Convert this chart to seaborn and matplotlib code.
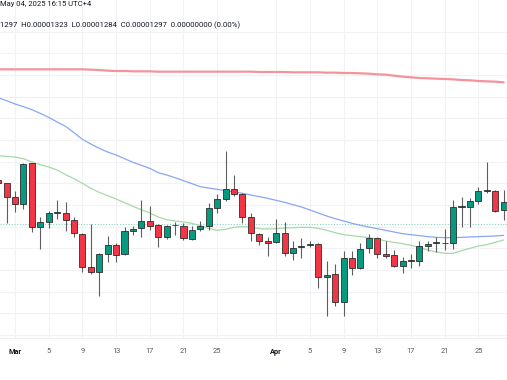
import matplotlib
matplotlib.use("Agg")
import matplotlib.pyplot as plt
import seaborn as sns
import numpy as np
import pandas as pd

# daily candles, Feb 27 -> Apr 28 2025 (prices in 1e-8)
dates = pd.date_range("2025-02-27", "2025-04-28", freq="D")

opens = [1430, 1420, 1378, 1357, 1480, 1290, 1305, 1332, 1332, 1310, 1267, 1170, 1155, 1208, 1235,
         1207, 1277, 1285, 1307, 1294, 1258, 1294, 1292, 1254, 1282, 1293, 1345, 1372, 1402, 1388,
         1320, 1268, 1248, 1243, 1270, 1210, 1228, 1235, 1237, 1138, 1147, 1065, 1197, 1167, 1225,
         1255, 1208, 1204, 1173, 1189, 1186, 1232, 1242, 1241, 1240, 1349, 1350, 1367, 1398, 1397, 1340]
highs = [1435, 1422, 1398, 1482, 1482, 1320, 1337, 1370, 1364, 1320, 1270, 1298, 1212, 1263, 1242,
         1290, 1292, 1370, 1352, 1297, 1295, 1303, 1302, 1293, 1307, 1360, 1388, 1518, 1445, 1392,
         1332, 1272, 1260, 1312, 1303, 1247, 1255, 1248, 1240, 1188, 1178, 1217, 1217, 1240, 1268,
         1260, 1247, 1220, 1200, 1208, 1248, 1247, 1260, 1282, 1370, 1378, 1375, 1410, 1485, 1400, 1400]
lows = [1410, 1300, 1335, 1343, 1273, 1222, 1287, 1312, 1277, 1260, 1155, 1148, 1083, 1183, 1185,
        1204, 1265, 1260, 1280, 1230, 1253, 1264, 1250, 1250, 1278, 1280, 1330, 1368, 1383, 1300,
        1248, 1235, 1203, 1240, 1202, 1190, 1197, 1230, 1105, 1023, 1052, 1023, 1145, 1164, 1210,
        1195, 1197, 1170, 1150, 1167, 1172, 1217, 1215, 1220, 1222, 1290, 1290, 1358, 1390, 1335, 1310]
closes = [1420, 1380, 1357, 1478, 1290, 1305, 1331, 1333, 1310, 1270, 1170, 1155, 1208, 1235, 1205,
          1277, 1283, 1307, 1293, 1258, 1292, 1295, 1255, 1280, 1293, 1345, 1372, 1402, 1388, 1320,
          1270, 1248, 1242, 1270, 1210, 1226, 1233, 1237, 1138, 1145, 1065, 1197, 1167, 1223, 1255,
          1208, 1203, 1172, 1187, 1186, 1232, 1237, 1243, 1242, 1350, 1350, 1367, 1397, 1399, 1338, 1363]

ma_slow = [1762, 1762, 1762, 1762, 1762, 1762, 1762, 1762, 1762, 1762, 1762, 1761, 1760, 1758, 1757,
           1757, 1756, 1756, 1756, 1755, 1755, 1755, 1755, 1755, 1755, 1755, 1755, 1755, 1755, 1755,
           1755, 1754, 1754, 1754, 1754, 1753, 1753, 1753, 1753, 1752, 1752, 1751, 1751, 1750, 1749,
           1747, 1746, 1743, 1740, 1738, 1736, 1735, 1734, 1733, 1732, 1730, 1729, 1727, 1726, 1725, 1723]
ma_mid = [1677, 1668, 1658, 1650, 1641, 1630, 1618, 1604, 1591, 1572, 1552, 1538, 1525, 1514, 1505,
          1494, 1483, 1474, 1465, 1452, 1445, 1437, 1428, 1419, 1410, 1406, 1402, 1398, 1394, 1390,
          1385, 1380, 1375, 1369, 1363, 1356, 1349, 1340, 1331, 1322, 1314, 1307, 1300, 1294, 1289,
          1284, 1279, 1274, 1269, 1266, 1263, 1260, 1258, 1257, 1257, 1258, 1259, 1260, 1261, 1262, 1264]
ma_fast = [1503, 1501, 1499, 1494, 1484, 1476, 1469, 1460, 1446, 1434, 1420, 1405, 1393, 1383, 1373,
           1362, 1351, 1341, 1331, 1319, 1311, 1307, 1304, 1300, 1293, 1285, 1279, 1282, 1288, 1290,
           1289, 1284, 1283, 1284, 1286, 1287, 1288, 1288, 1285, 1279, 1272, 1266, 1263, 1260, 1257,
           1253, 1247, 1243, 1239, 1234, 1228, 1220, 1214, 1210, 1210, 1218, 1225, 1232, 1236, 1243, 1250]

last_price = 1297
tick_dates = ["2025-03-01", "2025-03-05", "2025-03-09", "2025-03-13", "2025-03-17", "2025-03-21",
              "2025-03-25", "2025-04-01", "2025-04-05", "2025-04-09", "2025-04-13", "2025-04-17",
              "2025-04-21", "2025-04-25"]
tick_labels = ["Mar", "5", "9", "13", "17", "21", "25", "Apr", "5", "9", "13", "17", "21", "25"]

df = pd.DataFrame({"date": dates, "open": opens, "high": highs, "low": lows, "close": closes,
                   "ma_slow": ma_slow, "ma_mid": ma_mid, "ma_fast": ma_fast})

sns.set_theme(style="white")
plt.rcParams["font.family"] = ["Roboto", "DejaVu Sans"]

fig = plt.figure(figsize=(5.07, 3.80), dpi=100)
ax = fig.add_axes([0, 42 / 380, 1, 338 / 380])

# moving averages
sns.lineplot(data=df, x="date", y="ma_slow", ax=ax, color="#f4939c", linewidth=1.6, zorder=2)
sns.lineplot(data=df, x="date", y="ma_mid", ax=ax, color="#8aa6f2", linewidth=0.9, zorder=2)
sns.lineplot(data=df, x="date", y="ma_fast", ax=ax, color="#a8d8a8", linewidth=0.9, zorder=2)

ax.axhline(last_price, color="#8fcfc0", linewidth=0.8, linestyle=(0, (1, 1.5)), zorder=1)

# candles
up = df["close"] >= df["open"]
colors = np.where(up, "#089981", "#f23645")
ax.vlines(df["date"], df["low"], df["high"], color="#5e5e5e", linewidth=0.8, zorder=3)
body = (df["close"] - df["open"]).abs().clip(lower=1.5)
ax.bar(df["date"], body, bottom=df[["open", "close"]].min(axis=1), width=0.72,
       color=colors, edgecolor="#222222", linewidth=0.55, zorder=4)

ax.set_xlim(pd.Timestamp("2025-03-01") - pd.Timedelta(days=1.78),
            pd.Timestamp("2025-03-01") + pd.Timedelta(days=58.4))
ax.set_ylim(956, 1970)

ax.set_xticks(pd.to_datetime(tick_dates))
ax.set_xticklabels(tick_labels)
ax.set_yticks(np.arange(965, 1900, 65))
ax.set_yticklabels([])
ax.grid(True, color="#f0f2f6", linewidth=0.8)
ax.set_axisbelow(True)
ax.tick_params(axis="x", length=0, pad=7.5, labelsize=5.3, colors="#555555")
ax.tick_params(axis="y", length=0)
for lbl in ax.get_xticklabels():
    if lbl.get_text() in ("Mar", "Apr"):
        lbl.set_color("#131722")
        lbl.set_fontweight("bold")
ax.set_xlabel("")
ax.set_ylabel("")
for s in ["top", "left", "right"]:
    ax.spines[s].set_visible(False)
ax.spines["bottom"].set_color("#eef0f3")
ax.spines["bottom"].set_linewidth(0.8)

fig.text(0.0, 1 - 4 / 380, "May 04, 2025 16:15 UTC+4", fontsize=5.5, color="#131722", va="center", ha="left")
fig.text(0.0, 1 - 25 / 380, "1297  H0.00001323  L0.00001284  C0.00001297  0.00000000 (0.00%)",
         fontsize=5.6, color="#131722", va="center", ha="left")

fig.savefig("out.png", dpi=100)
